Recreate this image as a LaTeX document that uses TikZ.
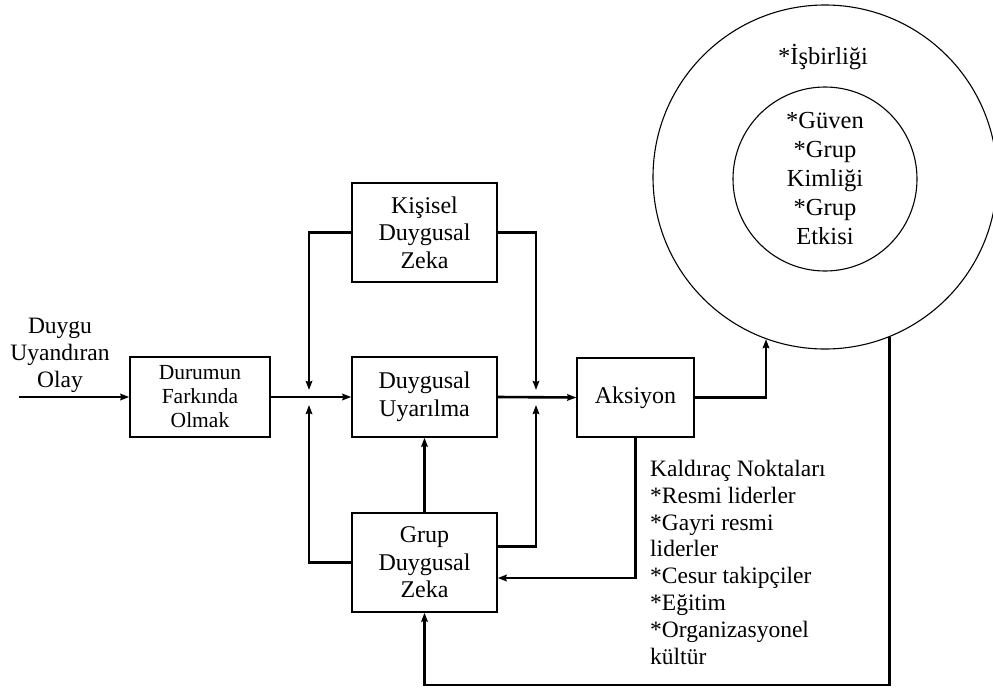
\documentclass[tikz,border=0pt]{standalone}
\usepackage{fontspec}
\setmainfont{Liberation Serif}
\usetikzlibrary{arrows.meta}

\begin{document}
\begin{tikzpicture}[x=1pt,y=-1pt,
  box/.style={draw,line width=1.4pt,rectangle,inner sep=0pt,align=center,
    font=\fontsize{24}{27.5}\selectfont},
  flow/.style={line width=2.6pt,-{Stealth[length=9pt,width=6.5pt,inset=1pt]}},
  link/.style={line width=2.6pt},
  ring/.style={draw,line width=1.1pt,circle,inner sep=0pt}]

\useasboundingbox (0,0) rectangle (993,691);

% boxes of the flow
\node[box,minimum width=140pt,minimum height=80pt,
      font=\fontsize{21.5}{24}\selectfont] (dur) at (200,397) {Durumun\\Farkında\\Olmak};
\node[box,minimum width=145pt,minimum height=99pt] (kis) at (424.5,232.5) {Kişisel\\Duygusal\\Zeka};
\node[box,minimum width=145pt,minimum height=80pt] (uya) at (424.5,397) {Duygusal\\Uyarılma};
\node[box,minimum width=145pt,minimum height=99pt] (grp) at (424.5,562.5) {Grup\\Duygusal\\Zeka};
\node[box,minimum width=117pt,minimum height=79pt] (aks) at (635.5,397.5) {Aksiyon};

% nested circles
\node[ring,minimum size=344pt] (outer) at (825,177) {};
\node[ring,minimum size=184pt] (inner) at (825,179) {};
\node[font=\fontsize{24.5}{29}\selectfont] (isb) at (823,57) {*İşbirliği};
\node[align=center,font=\fontsize{24.5}{29}\selectfont] (inr) at (825,179)
  {*Güven\\*Grup\\Kimliği\\*Grup\\Etkisi};

% input event
\node[align=center,font=\fontsize{23.5}{27}\selectfont] (olay) at (60,355) {Duygu\\Uyandıran\\Olay};
\coordinate (src) at (19,397);

% leverage points
\node[anchor=north west,inner sep=0pt,align=left,
      font=\fontsize{23.5}{26.8}\selectfont] (kald) at (650,460)
  {Kaldıraç Noktaları\\*Resmi liderler\\*Gayri resmi\\liderler\\*Cesur takipçiler\\*Eğitim\\*Organizasyonel\\kültür};

% junction points
\coordinate (jl) at (309,397);
\coordinate (jr) at (536,397);
\coordinate (bot) at (887,685);

% main chain
\draw[flow] (src) -- (dur.west);
\draw[flow] (dur.east) -- (uya.west);
\draw[flow] (uya.east) -- (aks.west);

% personal EI into the junctions
\draw[flow] (kis.west) -| ([yshift=7pt]jl);
\draw[flow] (kis.east) -| ([yshift=7pt]jr);

% group EI into the junctions and arousal
\draw[flow] (grp.west) -| ([yshift=-8pt]jl);
\draw[flow] ([yshift=16pt]grp.east) -| ([yshift=-8pt]jr);
\draw[flow] (grp.north) -- (uya.south);

% action outputs
\draw[flow] (aks.east) -| (outer.-110.4);
\draw[flow] (aks.south) |- ([yshift=-15.5pt]grp.east);

% feedback from the circles
\draw[flow] (outer.-68.9) |- (bot) -| (grp.south);

\end{tikzpicture}
\end{document}
